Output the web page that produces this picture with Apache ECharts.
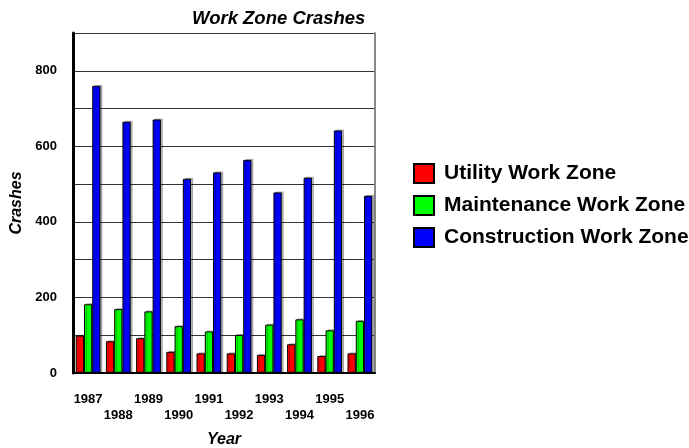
<!DOCTYPE html>
<html>
<head>
<meta charset="utf-8">
<script src="https://cdn.jsdelivr.net/npm/echarts@6/dist/echarts.min.js"></script>
<style>
	html, body { margin: 0; padding: 0; background: #fff; }
	#chart { width: 689px; height: 448px; }
</style>
</head>
<body>
<div id="chart"></div>
<script>
	// data
	var years = ['1987', '1988', '1989', '1990', '1991', '1992', '1993', '1994', '1995', '1996'];
	var utility = [99, 84, 92, 56, 52, 52, 48, 76, 45, 52];
	var maintenance = [182, 169, 163, 124, 110, 101, 128, 142, 113, 138];
	var construction = [760, 665, 671, 514, 531, 564, 478, 517, 642, 469];

	var font = 'Liberation Sans, Arial, sans-serif';

	function barSeries(name, color, values) {
		return {
			name: name,
			type: 'bar',
			barGap: 0,
			barCategoryGap: '18%',
			itemStyle: {
				color: color,
				borderColor: '#000',
				borderWidth: 1,
				shadowColor: 'rgba(0,0,0,0.25)',
				shadowOffsetX: 2,
				shadowOffsetY: -1
			},
			data: values
		};
	}

	var chart = echarts.init(document.getElementById('chart'));
	chart.setOption({
		backgroundColor: '#fff',
		animation: false,
		textStyle: { fontFamily: font },
		title: {
			text: 'Work Zone Crashes',
			left: 192,
			top: 9,
			padding: 0,
			textStyle: { fontSize: 18.5, fontWeight: 'bold', fontStyle: 'italic', color: '#000', fontFamily: font }
		},
		legend: {
			orient: 'vertical',
			left: 413,
			top: 163,
			padding: 0,
			itemWidth: 20,
			itemHeight: 19,
			itemGap: 11,
			icon: 'rect',
			textStyle: { fontSize: 21, fontWeight: 'bold', color: '#000', fontFamily: font, lineHeight: 19, padding: [0, 0, 0, 5] },
			data: ['Utility Work Zone', 'Maintenance Work Zone', 'Construction Work Zone']
		},
		grid: { left: 73, right: 314, top: 33, bottom: 75, outerBoundsMode: 'none', containLabel: false },
		xAxis: {
			type: 'category',
			data: years,
			name: 'Year',
			nameLocation: 'middle',
			nameGap: 59,
			nameTextStyle: { fontSize: 16, fontWeight: 'bold', fontStyle: 'italic', color: '#000' },
			axisLine: { lineStyle: { color: '#000', width: 2 } },
			axisTick: { show: false },
			axisLabel: {
				interval: 0,
				margin: 18,
				fontSize: 13,
				fontWeight: 'bold',
				color: '#000',
				lineHeight: 16,
				formatter: function (v, i) { return i % 2 ? '\n' + v : v; }
			}
		},
		yAxis: [{
			type: 'value',
			min: 0,
			max: 900,
			interval: 100,
			name: 'Crashes',
			nameLocation: 'middle',
			nameRotate: 90,
			nameGap: 48,
			nameTextStyle: { fontSize: 16, fontWeight: 'bold', fontStyle: 'italic', color: '#000' },
			axisLine: { show: true, lineStyle: { color: '#000', width: 3 } },
			axisTick: { show: false },
			axisLabel: {
				margin: 16,
				fontSize: 13,
				fontWeight: 'bold',
				color: '#000',
				formatter: function (v) { return v % 200 === 0 ? v : ''; }
			},
			splitLine: { lineStyle: { color: '#333', width: 1 } }
		}, {
			type: 'value',
			position: 'right',
			min: 0,
			max: 900,
			interval: 100,
			axisLine: { show: true, lineStyle: { color: '#888', width: 2 } },
			axisTick: { show: false },
			axisLabel: { show: false },
			splitLine: { show: false }
		}],
		series: [
			barSeries('Utility Work Zone', '#ff0000', utility),
			barSeries('Maintenance Work Zone', '#00ff00', maintenance),
			barSeries('Construction Work Zone', '#0000ff', construction)
		]
	});
</script>
</body>
</html>
